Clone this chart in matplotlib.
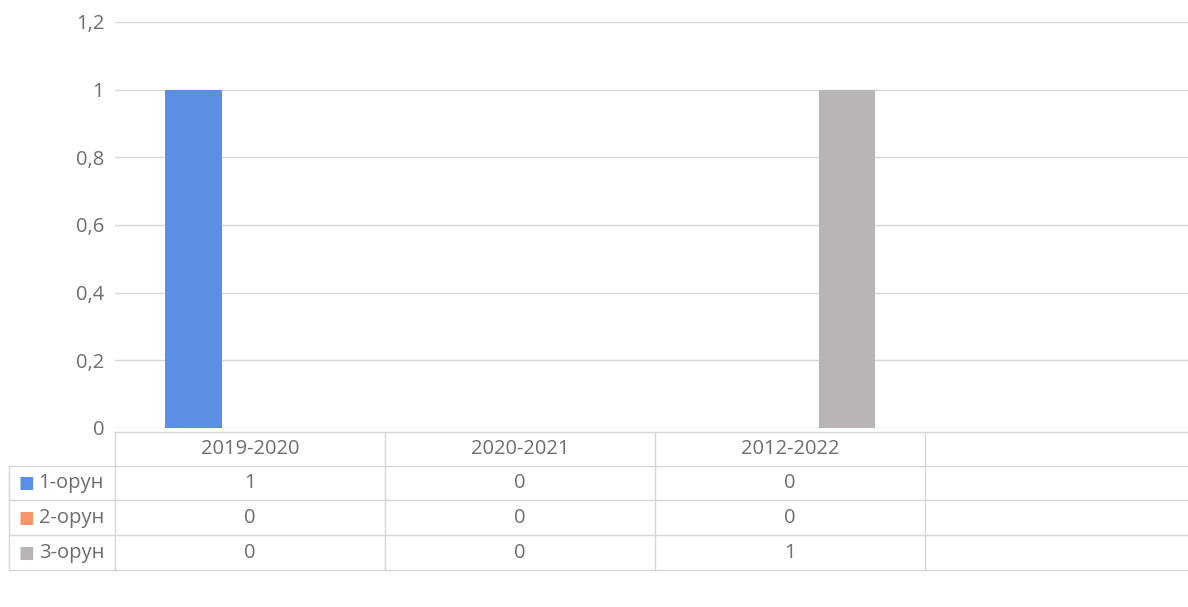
import matplotlib.pyplot as plt
from matplotlib.ticker import FuncFormatter

# data
years = ['2019-2020', '2020-2021', '2012-2022', '']
places = ['1-орун', '2-орун', '3-орун']
values = [[1, 0, 0, None],
          [0, 0, 0, None],
          [0, 0, 1, None]]
colors = ['#5b8fe3', '#f4956a', '#b9b4b8']
yticks = [0, 0.2, 0.4, 0.6, 0.8, 1, 1.2]

plt.rcParams['font.family'] = ['Open Sans', 'DejaVu Sans']
txtcol = '#6e6e6e'
linecol = '#d6d6d6'
fs = 14.5

fig = plt.figure(figsize=(11.88, 6.07), dpi=100)
fig.patch.set_facecolor('white')
ax = fig.add_axes([0.097, 0.295, 0.909, 0.669])

w = 0.21
for i, (name, vals, col) in enumerate(zip(places, values, colors)):
    xs = [j + (i - 1) * w for j in range(len(years)) if vals[j] is not None]
    hs = [v for v in vals if v is not None]
    ax.bar(xs, hs, width=w, color=col, zorder=3)

ax.set_xlim(-0.5, len(years) - 0.5)
ax.set_ylim(0, 1.2)
ax.set_yticks(yticks)
ax.yaxis.set_major_formatter(FuncFormatter(lambda v, p: ('%g' % v).replace('.', ',')))
ax.tick_params(axis='y', length=0, labelsize=fs, labelcolor=txtcol, pad=8)
ax.set_xticks([])
ax.grid(axis='y', color=linecol, linewidth=1, zorder=0)
for s in ax.spines.values():
    s.set_visible(False)

# data table under the plot, drawn in axes coordinates
lab_w = 0.098
ncol = len(years)
col_w = 1.0 / ncol
row_edges = [-0.01, -0.094, -0.178, -0.264, -0.35]   # header top, row tops..., bottom
tr = ax.transAxes


def hline(y, x0, x1):
    ax.plot([x0, x1], [y, y], color=linecol, lw=1, transform=tr, clip_on=False)


def vline(x, y0, y1):
    ax.plot([x, x], [y0, y1], color=linecol, lw=1, transform=tr, clip_on=False)


hline(row_edges[0], 0, 1)
for y in row_edges[1:]:
    hline(y, -lab_w, 1)
vline(-lab_w, row_edges[1], row_edges[-1])
for j in range(ncol + 1):
    vline(j * col_w, row_edges[0], row_edges[-1])

for j, y in enumerate(years):
    yc = (row_edges[0] + row_edges[1]) / 2
    ax.text((j + 0.5) * col_w, yc, y, transform=tr, ha='center', va='center',
            color=txtcol, fontsize=fs)
for i, (name, col) in enumerate(zip(places, colors)):
    yc = (row_edges[i + 1] + row_edges[i + 2]) / 2
    ax.text(-lab_w + 0.008, yc, '■', color=col, fontsize=12, family='DejaVu Sans',
            transform=tr, ha='left', va='center')
    ax.text(-lab_w + 0.027, yc, name, color=txtcol, fontsize=fs,
            transform=tr, ha='left', va='center')
    for j in range(ncol):
        v = values[i][j]
        if v is None:
            continue
        ax.text((j + 0.5) * col_w, yc, str(v), transform=tr, ha='center',
                va='center', color=txtcol, fontsize=fs)

fig.savefig('out.png', dpi=100)
